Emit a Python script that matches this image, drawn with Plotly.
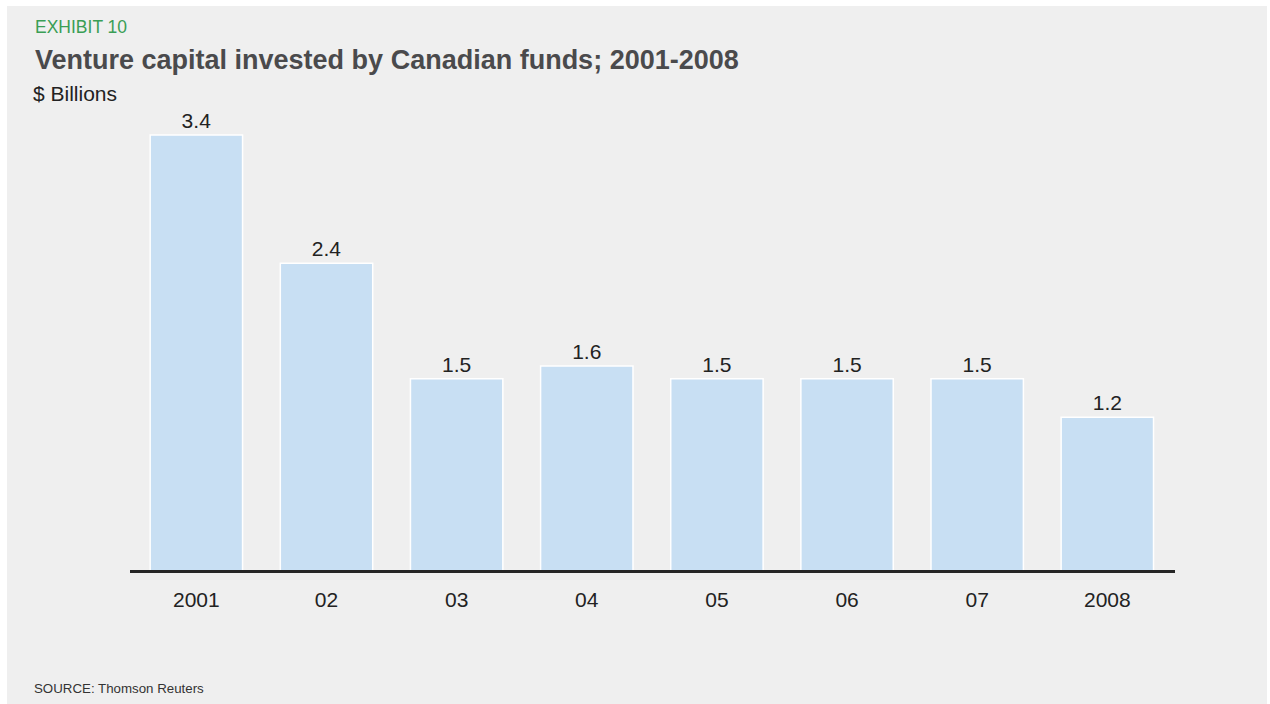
import plotly.graph_objects as go

years = ["2001", "02", "03", "04", "05", "06", "07", "2008"]
invested = [3.4, 2.4, 1.5, 1.6, 1.5, 1.5, 1.5, 1.2]
value_labels = ["3.4", "2.4", "1.5", "1.6", "1.5", "1.5", "1.5", "1.2"]

W, H = 1270, 704
ML, MR, MT, MB = 130, 95, 100, 133
FONT = "Liberation Sans, Arial, Helvetica, sans-serif"


def px_x(p):
    return (p - ML) / (W - ML - MR)


def px_y(p):
    return 1 - (p - MT) / (H - MT - MB)


fig = go.Figure(
    go.Bar(
        x=list(range(len(years))),
        y=invested,
        width=0.71,
        marker=dict(color="#c8dff3", line=dict(color="#ffffff", width=1.5)),
        text=value_labels,
        textposition="outside",
        textfont=dict(size=21, color="#222222", family=FONT),
        cliponaxis=False,
        hoverinfo="skip",
    )
)

fig.update_layout(
    width=W,
    height=H,
    margin=dict(l=ML, r=MR, t=MT, b=MB),
    paper_bgcolor="#ffffff",
    plot_bgcolor="rgba(0,0,0,0)",
    showlegend=False,
    font=dict(family=FONT, color="#222222"),
    xaxis=dict(
        range=[-0.51, 7.52],
        tickmode="array",
        tickvals=list(range(len(years))),
        ticktext=years,
        tickfont=dict(size=21, color="#222222"),
        showgrid=False,
        zeroline=False,
        showline=False,
        ticks="",
        ticklabelstandoff=14,
    ),
    yaxis=dict(
        range=[0, (H - MT - MB) / 128.2],
        visible=False,
        showgrid=False,
        zeroline=False,
    ),
    shapes=[
        dict(
            type="rect", xref="paper", yref="paper", layer="below",
            x0=px_x(7), x1=px_x(1267), y0=px_y(6), y1=px_y(704),
            fillcolor="#efefef", line=dict(width=0),
        ),
        # baseline under the bars (paper coords so it is not clipped)
        dict(
            type="line", xref="paper", yref="paper", layer="above",
            x0=0, x1=1, y0=px_y(571.5), y1=px_y(571.5),
            line=dict(color="#262626", width=3),
        ),
    ],
    annotations=[
        dict(
            text="EXHIBIT 10", xref="paper", yref="paper",
            x=px_x(33), y=px_y(27), xanchor="left", yanchor="middle",
            showarrow=False, font=dict(size=17.5, color="#3a9e55", family=FONT),
        ),
        dict(
            text="<b>Venture capital invested by Canadian funds; 2001-2008</b>",
            xref="paper", yref="paper",
            x=px_x(33), y=px_y(60), xanchor="left", yanchor="middle",
            showarrow=False, font=dict(size=27, color="#4a4a4c", family=FONT),
        ),
        dict(
            text="$ Billions", xref="paper", yref="paper",
            x=px_x(31), y=px_y(93), xanchor="left", yanchor="middle",
            showarrow=False, font=dict(size=21, color="#222222", family=FONT),
        ),
        dict(
            text="SOURCE: Thomson Reuters", xref="paper", yref="paper",
            x=px_x(32), y=px_y(688), xanchor="left", yanchor="middle",
            showarrow=False, font=dict(size=13.3, color="#333333", family=FONT),
        ),
    ],
)

fig.write_html("out.html")
